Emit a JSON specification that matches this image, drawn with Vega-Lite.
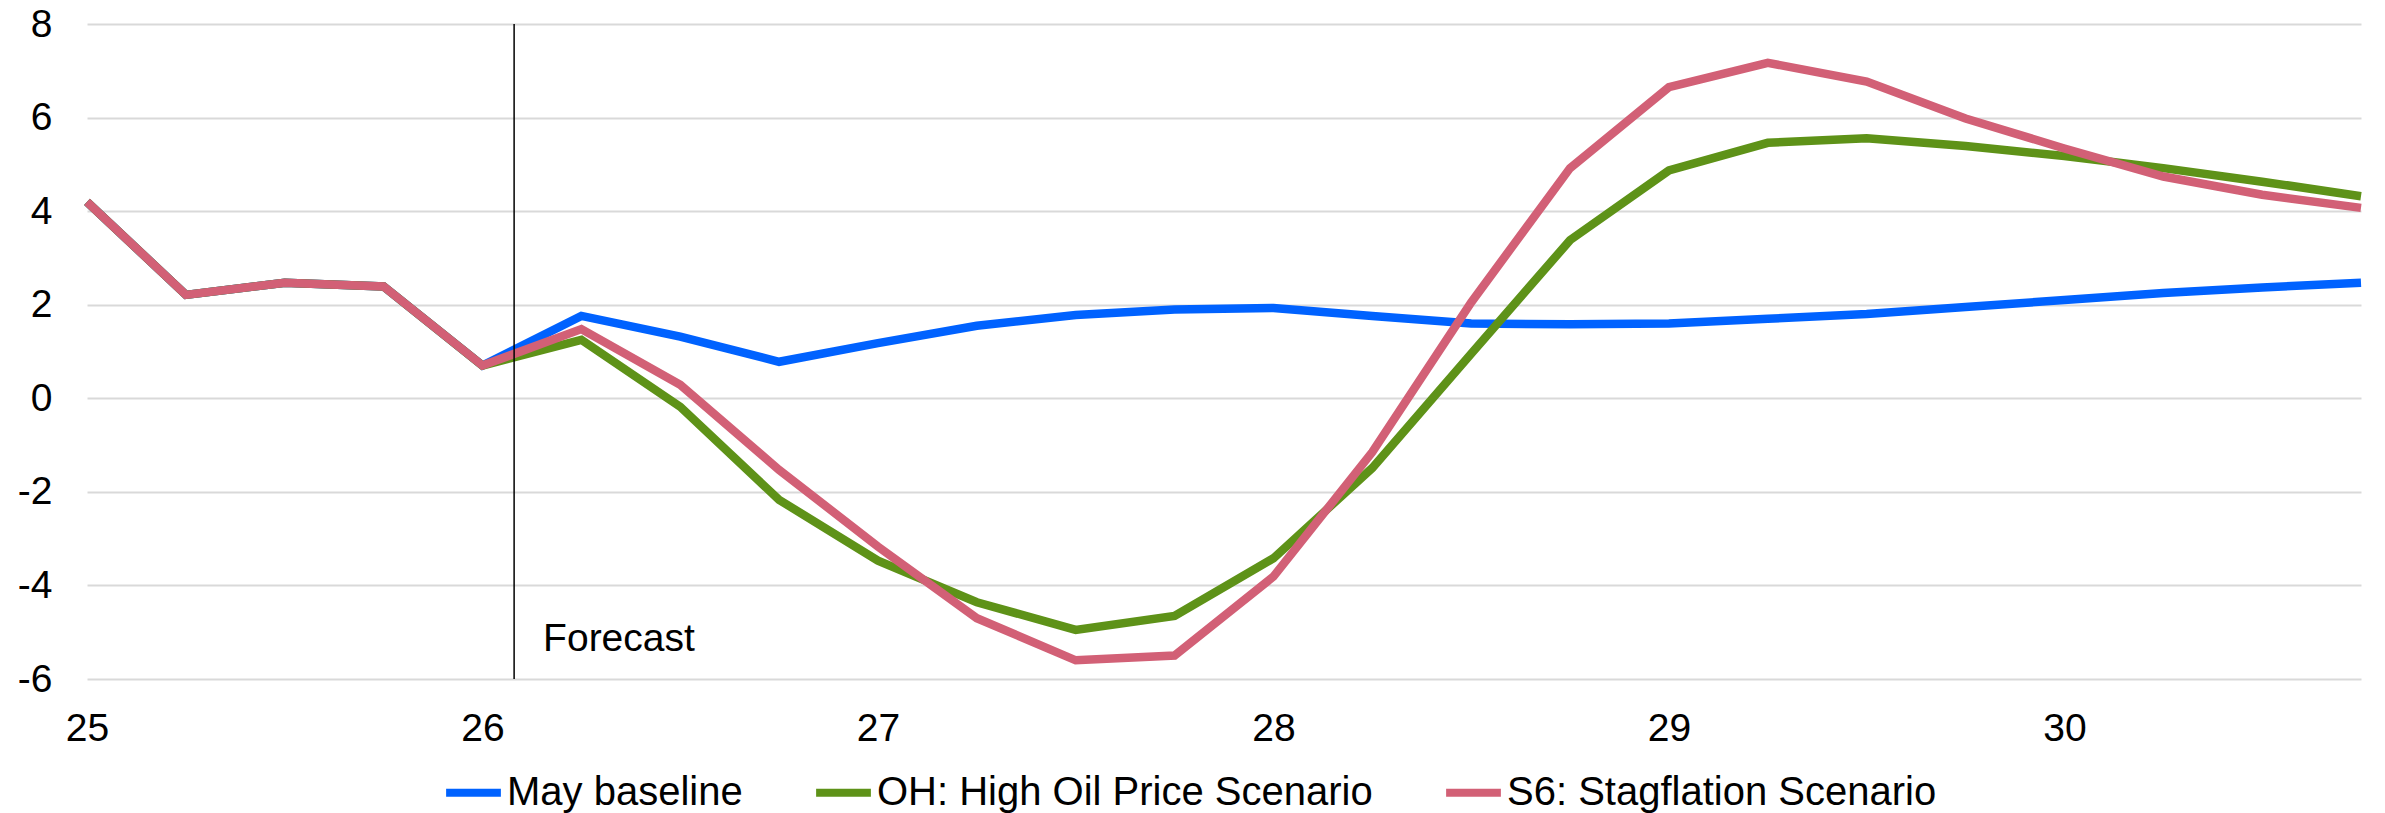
{
  "$schema": "https://vega.github.io/schema/vega-lite/v6.json",
  "autosize": {"type": "none"},
  "padding": {"left": 87, "top": 24, "right": 24, "bottom": 134},
  "width": 2274,
  "height": 655,
  "background": "white",
  "config": {
    "view": {"stroke": null},
    "font": "Liberation Sans",
    "axis": {"labelFont": "Liberation Sans", "labelFontSize": 39, "labelColor": "#000000", "title": null, "domain": false, "ticks": false},
    "legend": {"labelFont": "Liberation Sans", "labelFontSize": 40, "labelColor": "#000000"}
  },
  "datasets": {
    "series": [
      {"t": 25, "s": "May baseline", "v": 4.2}, {"t": 25.25, "s": "May baseline", "v": 2.21}, {"t": 25.5, "s": "May baseline", "v": 2.47}, {"t": 25.75, "s": "May baseline", "v": 2.39}, {"t": 26, "s": "May baseline", "v": 0.7},
      {"t": 26.25, "s": "May baseline", "v": 1.76}, {"t": 26.5, "s": "May baseline", "v": 1.32}, {"t": 26.75, "s": "May baseline", "v": 0.78}, {"t": 27, "s": "May baseline", "v": 1.18},
      {"t": 27.25, "s": "May baseline", "v": 1.55}, {"t": 27.5, "s": "May baseline", "v": 1.78}, {"t": 27.75, "s": "May baseline", "v": 1.9}, {"t": 28, "s": "May baseline", "v": 1.93},
      {"t": 28.25, "s": "May baseline", "v": 1.76}, {"t": 28.5, "s": "May baseline", "v": 1.6}, {"t": 28.75, "s": "May baseline", "v": 1.58}, {"t": 29, "s": "May baseline", "v": 1.6},
      {"t": 29.25, "s": "May baseline", "v": 1.7}, {"t": 29.5, "s": "May baseline", "v": 1.8}, {"t": 29.75, "s": "May baseline", "v": 1.95}, {"t": 30, "s": "May baseline", "v": 2.1},
      {"t": 30.25, "s": "May baseline", "v": 2.25}, {"t": 30.5, "s": "May baseline", "v": 2.37}, {"t": 30.75, "s": "May baseline", "v": 2.47},

      {"t": 25, "s": "OH: High Oil Price Scenario", "v": 4.2}, {"t": 25.25, "s": "OH: High Oil Price Scenario", "v": 2.21}, {"t": 25.5, "s": "OH: High Oil Price Scenario", "v": 2.47}, {"t": 25.75, "s": "OH: High Oil Price Scenario", "v": 2.39}, {"t": 26, "s": "OH: High Oil Price Scenario", "v": 0.7},
      {"t": 26.25, "s": "OH: High Oil Price Scenario", "v": 1.25}, {"t": 26.5, "s": "OH: High Oil Price Scenario", "v": -0.18}, {"t": 26.75, "s": "OH: High Oil Price Scenario", "v": -2.17}, {"t": 27, "s": "OH: High Oil Price Scenario", "v": -3.47},
      {"t": 27.25, "s": "OH: High Oil Price Scenario", "v": -4.36}, {"t": 27.5, "s": "OH: High Oil Price Scenario", "v": -4.95}, {"t": 27.75, "s": "OH: High Oil Price Scenario", "v": -4.65}, {"t": 28, "s": "OH: High Oil Price Scenario", "v": -3.42},
      {"t": 28.25, "s": "OH: High Oil Price Scenario", "v": -1.49}, {"t": 28.5, "s": "OH: High Oil Price Scenario", "v": 0.95}, {"t": 28.75, "s": "OH: High Oil Price Scenario", "v": 3.38}, {"t": 29, "s": "OH: High Oil Price Scenario", "v": 4.87},
      {"t": 29.25, "s": "OH: High Oil Price Scenario", "v": 5.46}, {"t": 29.5, "s": "OH: High Oil Price Scenario", "v": 5.56}, {"t": 29.75, "s": "OH: High Oil Price Scenario", "v": 5.39}, {"t": 30, "s": "OH: High Oil Price Scenario", "v": 5.18},
      {"t": 30.25, "s": "OH: High Oil Price Scenario", "v": 4.92}, {"t": 30.5, "s": "OH: High Oil Price Scenario", "v": 4.63}, {"t": 30.75, "s": "OH: High Oil Price Scenario", "v": 4.32},

      {"t": 25, "s": "S6: Stagflation Scenario", "v": 4.2}, {"t": 25.25, "s": "S6: Stagflation Scenario", "v": 2.21}, {"t": 25.5, "s": "S6: Stagflation Scenario", "v": 2.47}, {"t": 25.75, "s": "S6: Stagflation Scenario", "v": 2.39}, {"t": 26, "s": "S6: Stagflation Scenario", "v": 0.7},
      {"t": 26.25, "s": "S6: Stagflation Scenario", "v": 1.48}, {"t": 26.5, "s": "S6: Stagflation Scenario", "v": 0.29}, {"t": 26.75, "s": "S6: Stagflation Scenario", "v": -1.53}, {"t": 27, "s": "S6: Stagflation Scenario", "v": -3.17},
      {"t": 27.25, "s": "S6: Stagflation Scenario", "v": -4.7}, {"t": 27.5, "s": "S6: Stagflation Scenario", "v": -5.6}, {"t": 27.75, "s": "S6: Stagflation Scenario", "v": -5.5}, {"t": 28, "s": "S6: Stagflation Scenario", "v": -3.81},
      {"t": 28.25, "s": "S6: Stagflation Scenario", "v": -1.15}, {"t": 28.5, "s": "S6: Stagflation Scenario", "v": 2.05}, {"t": 28.75, "s": "S6: Stagflation Scenario", "v": 4.92}, {"t": 29, "s": "S6: Stagflation Scenario", "v": 6.65},
      {"t": 29.25, "s": "S6: Stagflation Scenario", "v": 7.17}, {"t": 29.5, "s": "S6: Stagflation Scenario", "v": 6.77}, {"t": 29.75, "s": "S6: Stagflation Scenario", "v": 5.98}, {"t": 30, "s": "S6: Stagflation Scenario", "v": 5.34},
      {"t": 30.25, "s": "S6: Stagflation Scenario", "v": 4.74}, {"t": 30.5, "s": "S6: Stagflation Scenario", "v": 4.35}, {"t": 30.75, "s": "S6: Stagflation Scenario", "v": 4.07}
    ],
    "forecast": [{"t": 26.08, "label": "Forecast", "lo": -6, "hi": 8, "ty": -5.4}]
  },
  "layer": [
    {
      "data": {"name": "series"},
      "mark": {"type": "line", "strokeWidth": 8.5, "strokeJoin": "miter", "strokeCap": "butt"},
      "encoding": {
        "x": {"field": "t", "type": "quantitative", "scale": {"domain": [25, 30.75], "nice": false, "zero": false},
              "axis": {"values": [25, 26, 27, 28, 29, 30], "labelExpr": "'' + datum.value", "grid": false, "labelPadding": 30, "labelFlush": false}},
        "y": {"field": "v", "type": "quantitative", "scale": {"domain": [-6, 8], "nice": false, "zero": false},
              "axis": {"values": [-6, -4, -2, 0, 2, 4, 6, 8], "labelExpr": "'' + datum.value", "grid": true, "gridColor": "#D9D9D9", "gridWidth": 2, "labelPadding": 35}},
        "color": {"field": "s", "type": "nominal",
                  "scale": {"domain": ["May baseline", "OH: High Oil Price Scenario", "S6: Stagflation Scenario"], "range": ["#0062FF", "#5E9218", "#D26076"]},
                  "legend": {"title": null, "orient": "none", "direction": "horizontal", "legendX": 355, "legendY": 737,
                             "symbolType": "stroke", "symbolStrokeWidth": 8, "symbolSize": 3000, "labelOffset": 2, "columnPadding": 57, "labelLimit": 1000}}
      }
    },
    {
      "data": {"name": "forecast"},
      "mark": {"type": "rule", "color": "#000000", "strokeWidth": 1.5},
      "encoding": {
        "x": {"field": "t", "type": "quantitative"},
        "y": {"field": "lo", "type": "quantitative"},
        "y2": {"field": "hi"}
      }
    },
    {
      "data": {"name": "forecast"},
      "mark": {"type": "text", "align": "left", "baseline": "alphabetic", "dx": 29, "fontSize": 39, "font": "Liberation Sans", "color": "#000000"},
      "encoding": {
        "x": {"field": "t", "type": "quantitative"},
        "y": {"field": "ty", "type": "quantitative"},
        "text": {"field": "label"}
      }
    }
  ]
}
